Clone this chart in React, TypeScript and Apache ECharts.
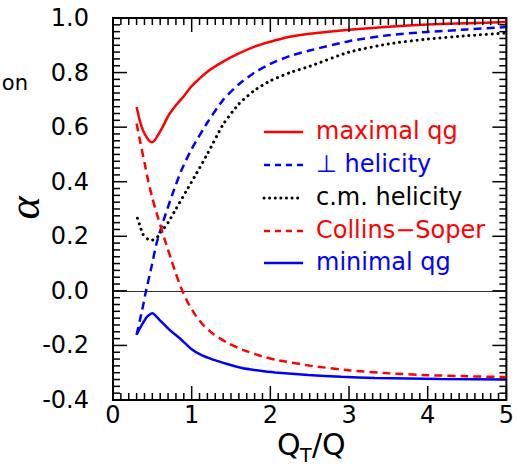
import React, { useEffect, useRef } from "react";
import * as echarts from "echarts";

// ---- data ----
const maxQgX = [0.30, 0.34, 0.38, 0.425, 0.467, 0.50, 0.53, 0.57, 0.63, 0.70, 0.80, 0.91, 1.0, 1.2, 1.4, 1.6, 1.8, 2.0, 2.25, 2.5, 3.0, 3.5, 4.0, 4.5, 5.0];
const maxQgY = [0.674, 0.625, 0.589, 0.564, 0.548, 0.545, 0.552, 0.570, 0.600, 0.640, 0.680, 0.717, 0.750, 0.803, 0.840, 0.870, 0.895, 0.913, 0.931, 0.942, 0.957, 0.968, 0.976, 0.981, 0.985];

const perpX = [0.30, 0.34, 0.38, 0.42, 0.49, 0.55, 0.63, 0.75, 0.87, 1.0, 1.2, 1.4, 1.6, 1.8, 2.0, 2.25, 2.5, 3.0, 3.5, 4.0, 4.5, 5.0];
const perpY = [-0.161, -0.11, -0.057, 0.0, 0.089, 0.17, 0.247, 0.35, 0.442, 0.52, 0.617, 0.70, 0.757, 0.80, 0.832, 0.861, 0.881, 0.915, 0.937, 0.949, 0.958, 0.967];

const cmX = [0.31, 0.34, 0.38, 0.44, 0.50, 0.57, 0.63, 0.70, 0.80, 0.93, 1.06, 1.2, 1.4, 1.6, 1.8, 2.0, 2.25, 2.5, 3.0, 3.5, 4.0, 4.5, 5.0];
const cmY = [0.266, 0.241, 0.208, 0.19, 0.186, 0.199, 0.223, 0.25, 0.30, 0.365, 0.43, 0.502, 0.61, 0.685, 0.735, 0.77, 0.80, 0.823, 0.875, 0.905, 0.923, 0.935, 0.945];

const csX = [0.30, 0.35, 0.40, 0.45, 0.50, 0.57, 0.66, 0.74, 0.80, 0.87, 0.95, 1.05, 1.15, 1.27, 1.45, 1.65, 1.85, 2.06, 2.5, 3.0, 3.5, 4.0, 4.5, 5.0];
const csY = [0.613, 0.54, 0.47, 0.40, 0.34, 0.27, 0.186, 0.115, 0.062, 0.008, -0.042, -0.090, -0.126, -0.157, -0.19, -0.216, -0.236, -0.252, -0.274, -0.291, -0.302, -0.309, -0.313, -0.316];

const minQgX = [0.30, 0.34, 0.38, 0.44, 0.50, 0.59, 0.72, 0.845, 1.0, 1.12, 1.27, 1.45, 1.64, 1.85, 2.06, 2.48, 2.90, 3.33, 3.75, 4.17, 5.0];
const minQgY = [-0.161, -0.138, -0.118, -0.093, -0.082, -0.106, -0.143, -0.173, -0.214, -0.235, -0.252, -0.268, -0.283, -0.292, -0.299, -0.308, -0.315, -0.319, -0.321, -0.323, -0.325];

const legendLabels = ["maximal qg", "\u22A5 helicity", "c.m. helicity", "Collins\u2212Soper", "minimal qg"];

// axis ranges and tick marks (minor every 0.1 on x, every 0.025 on y)
const X_MIN = 0, X_MAX = 5, X_STEP = 1;
const Y_MIN = -0.4, Y_MAX = 1.0, Y_STEP = 0.2;
const xTickMarks = Array.from({ length: 51 }, (_, i) => [Math.round(i * 10) / 100, i % 10 === 0 ? 1 : 0]);
const yTickMarks = Array.from({ length: 57 }, (_, i) => [Math.round((-0.4 + i * 0.025) * 1000) / 1000, i % 8 === 0 ? 1 : 0]);

const zip = (xs: number[], ys: number[]) => xs.map((x, i) => [x, ys[i]]);

const FONT = "DejaVu Sans";
const RED = "#ff0000";
const BLUE = "#0000ff";
const BLACK = "#000000";

export default function App() {
  const ref = useRef<HTMLDivElement>(null);

  useEffect(() => {
    if (!ref.current) return;
    const chart = echarts.init(ref.current, undefined, { renderer: "svg" });

    const makeAxis = (
      pos: string,
      min: number,
      max: number,
      interval: number,
      label: any
    ) => ({
      type: "value",
      min,
      max,
      interval,
      position: pos,
      axisLine: { show: true, onZero: false, lineStyle: { color: "#000000" } },
      axisTick: { show: false },
      minorTick: { show: false },
      splitLine: { show: false },
      axisLabel: label,
    });

    const lineSeries = (name: string, data: number[][], color: string, type: any, width = 2.5, extra: any = {}) => ({
      name,
      type: "line",
      data,
      showSymbol: false,
      symbol: "none",
      smooth: 0.2,
      lineStyle: { color, width, type, ...extra },
      z: 3,
    });

    const legendColors = [RED, BLUE, BLACK, RED, BLUE];
    const legendDash: any[] = [null, [6, 5], [0.1, 5.5], [6, 5], null];
    const legendY = [132, 165, 198, 231, 263];

    const graphic: any[] = [];
    legendLabels.forEach((lab, i) => {
      graphic.push({
        type: "line",
        shape: { x1: 264, y1: legendY[i], x2: 303, y2: legendY[i] },
        style: {
          stroke: legendColors[i],
          lineWidth: i === 2 ? 3 : 2.5,
          lineDash: legendDash[i] || undefined,
          lineCap: i === 2 ? "round" : "butt",
        },
      });
      graphic.push({
        type: "text",
        x: 316,
        y: legendY[i] - 1,
        style: {
          text: lab,
          fill: legendColors[i],
          fontSize: 24,
          fontFamily: FONT,
          verticalAlign: "middle",
          textVerticalAlign: "middle",
        },
      });
    });
    graphic.push({
      type: "text",
      x: 24,
      y: 208,
      rotation: Math.PI / 2,
      style: {
        text: "\u03B1",
        fill: BLACK,
        fontSize: 44,
        fontFamily: "Liberation Serif",
        fontStyle: "italic",
        align: "center",
        textAlign: "center",
        verticalAlign: "middle",
        textVerticalAlign: "middle",
      },
    });
    graphic.push({
      type: "text",
      x: 28,
      y: 83,
      style: {
        text: "on",
        fill: BLACK,
        fontSize: 21,
        fontFamily: FONT,
        align: "right",
        textAlign: "right",
        verticalAlign: "middle",
        textVerticalAlign: "middle",
      },
    });
    graphic.push({
      type: "text", x: 277, y: 444,
      style: { text: "Q", fill: BLACK, fontSize: 30, fontFamily: FONT, verticalAlign: "middle", textVerticalAlign: "middle" },
    });
    graphic.push({
      type: "text", x: 300, y: 455,
      style: { text: "T", fill: BLACK, fontSize: 19, fontFamily: FONT, verticalAlign: "middle", textVerticalAlign: "middle" },
    });
    graphic.push({
      type: "text", x: 312, y: 444,
      style: { text: "/Q", fill: BLACK, fontSize: 30, fontFamily: FONT, verticalAlign: "middle", textVerticalAlign: "middle" },
    });

    chart.setOption({
      animation: false,
      grid: { left: 113, top: 18, width: 397, height: 382, show: true, borderColor: "#000000", borderWidth: 2, backgroundColor: "transparent" },
      xAxis: [
        makeAxis("bottom", X_MIN, X_MAX, X_STEP, { show: true, fontSize: 24, fontFamily: FONT, color: BLACK, margin: 3 }),
      ],
      yAxis: [
        makeAxis("left", Y_MIN, Y_MAX, Y_STEP, {
          show: true, fontSize: 24, fontFamily: FONT, color: BLACK, margin: 24,
          formatter: (v: number) => (Math.abs(v) < 1e-9 ? "0.0" : v.toFixed(1)),
        }),
      ],
      series: [
        {
          ...lineSeries(legendLabels[0], zip(maxQgX, maxQgY), RED, "solid"),
          markLine: {
            silent: true,
            symbol: "none",
            label: { show: false },
            lineStyle: { color: "#333", width: 1, type: "solid" },
            data: [{ yAxis: 0 }],
            z: 1,
          },
        },
        lineSeries(legendLabels[1], zip(perpX, perpY), BLUE, [8, 5]),
        lineSeries(legendLabels[2], zip(cmX, cmY), BLACK, [0.1, 5.7], 3, { cap: "round" }),
        lineSeries(legendLabels[3], zip(csX, csY), RED, [8, 5]),
        lineSeries(legendLabels[4], zip(minQgX, minQgY), BLUE, "solid"),
      ],
      graphic,
    });

    // tick marks placed through the chart's own scales
    const ticks: any[] = [];
    const tickStyle = { stroke: BLACK, lineWidth: 1.5 };
    const px = (x: number, y: number) => chart.convertToPixel({ gridIndex: 0 }, [x, y]) as number[];
    xTickMarks.forEach(([v, major]) => {
      const len = major ? 14 : 7;
      const b = px(v, Y_MIN);
      const t = px(v, Y_MAX);
      if (!b || !t) return;
      ticks.push({ type: "line", z: 10, shape: { x1: b[0], y1: b[1], x2: b[0], y2: b[1] - len }, style: tickStyle });
      ticks.push({ type: "line", z: 10, shape: { x1: t[0], y1: t[1], x2: t[0], y2: t[1] + len }, style: tickStyle });
    });
    yTickMarks.forEach(([v, major]) => {
      const len = major ? 14 : 7;
      const l = px(X_MIN, v);
      const r = px(X_MAX, v);
      if (!l || !r) return;
      ticks.push({ type: "line", z: 10, shape: { x1: l[0], y1: l[1], x2: l[0] + len, y2: l[1] }, style: tickStyle });
      ticks.push({ type: "line", z: 10, shape: { x1: r[0], y1: r[1], x2: r[0] - len, y2: r[1] }, style: tickStyle });
    });
    chart.setOption({ graphic: [...graphic, ...ticks] });

    return () => chart.dispose();
  }, []);

  return (
    <div
      ref={ref}
      style={{ position: "fixed", left: 0, top: 0, width: 517, height: 467, background: "#fff" }}
    />
  );
}
